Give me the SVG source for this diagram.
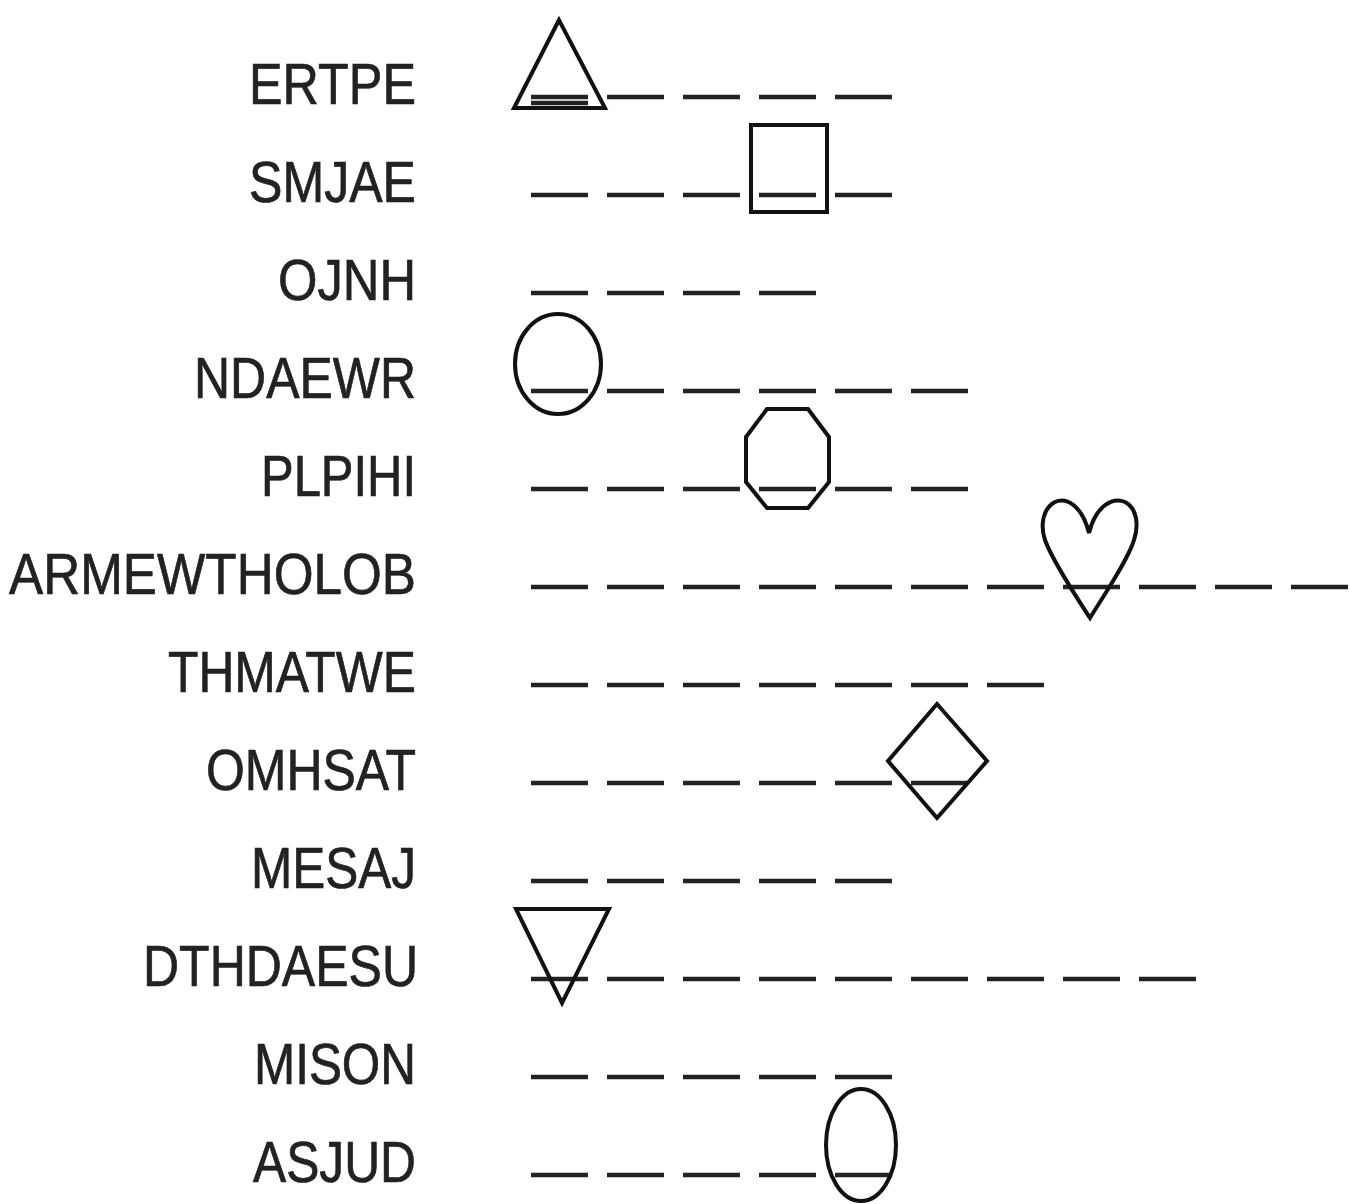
<svg xmlns="http://www.w3.org/2000/svg" width="1350" height="1204" viewBox="0 0 1350 1204">
<style>
.lbl{font-family:"Liberation Sans",Arial,sans-serif;font-size:58px;fill:#222;stroke:#222;stroke-width:0.7;text-anchor:end}
.d{stroke:#222;stroke-width:4.5;fill:none}
.s{stroke:#111;stroke-width:4;fill:none;stroke-linejoin:miter}
</style>
<defs>
<path id="dash" d="M0,0 h57" class="d"/>
</defs>
<rect width="1350" height="1204" fill="#fff"/>
<g id="labels">
<text class="lbl" x="416" y="104" textLength="167" lengthAdjust="spacingAndGlyphs">ERTPE</text>
<text class="lbl" x="416" y="202" textLength="167" lengthAdjust="spacingAndGlyphs">SMJAE</text>
<text class="lbl" x="416" y="300" textLength="138" lengthAdjust="spacingAndGlyphs">OJNH</text>
<text class="lbl" x="416" y="398" textLength="222" lengthAdjust="spacingAndGlyphs">NDAEWR</text>
<text class="lbl" x="416" y="496" textLength="155" lengthAdjust="spacingAndGlyphs">PLPIHI</text>
<text class="lbl" x="416" y="594" textLength="407" lengthAdjust="spacingAndGlyphs">ARMEWTHOLOB</text>
<text class="lbl" x="416" y="692" textLength="248" lengthAdjust="spacingAndGlyphs">THMATWE</text>
<text class="lbl" x="416" y="790" textLength="210" lengthAdjust="spacingAndGlyphs">OMHSAT</text>
<text class="lbl" x="416" y="888" textLength="165" lengthAdjust="spacingAndGlyphs">MESAJ</text>
<text class="lbl" x="418" y="986" textLength="275" lengthAdjust="spacingAndGlyphs">DTHDAESU</text>
<text class="lbl" x="416" y="1084" textLength="162" lengthAdjust="spacingAndGlyphs">MISON</text>
<text class="lbl" x="416" y="1182" textLength="163" lengthAdjust="spacingAndGlyphs">ASJUD</text>
</g>
<g id="connectors">
<use href="#dash" x="531" y="97"/><use href="#dash" x="607" y="97"/><use href="#dash" x="683" y="97"/><use href="#dash" x="759" y="97"/><use href="#dash" x="835" y="97"/>
<use href="#dash" x="531" y="195"/><use href="#dash" x="607" y="195"/><use href="#dash" x="683" y="195"/><use href="#dash" x="759" y="195"/><use href="#dash" x="835" y="195"/>
<use href="#dash" x="531" y="293"/><use href="#dash" x="607" y="293"/><use href="#dash" x="683" y="293"/><use href="#dash" x="759" y="293"/>
<use href="#dash" x="531" y="391"/><use href="#dash" x="607" y="391"/><use href="#dash" x="683" y="391"/><use href="#dash" x="759" y="391"/><use href="#dash" x="835" y="391"/><use href="#dash" x="911" y="391"/>
<use href="#dash" x="531" y="489"/><use href="#dash" x="607" y="489"/><use href="#dash" x="683" y="489"/><use href="#dash" x="759" y="489"/><use href="#dash" x="835" y="489"/><use href="#dash" x="911" y="489"/>
<use href="#dash" x="531" y="587"/><use href="#dash" x="607" y="587"/><use href="#dash" x="683" y="587"/><use href="#dash" x="759" y="587"/><use href="#dash" x="835" y="587"/><use href="#dash" x="911" y="587"/><use href="#dash" x="987" y="587"/><use href="#dash" x="1063" y="587"/><use href="#dash" x="1139" y="587"/><use href="#dash" x="1215" y="587"/><use href="#dash" x="1291" y="587"/>
<use href="#dash" x="531" y="685"/><use href="#dash" x="607" y="685"/><use href="#dash" x="683" y="685"/><use href="#dash" x="759" y="685"/><use href="#dash" x="835" y="685"/><use href="#dash" x="911" y="685"/><use href="#dash" x="987" y="685"/>
<use href="#dash" x="531" y="783"/><use href="#dash" x="607" y="783"/><use href="#dash" x="683" y="783"/><use href="#dash" x="759" y="783"/><use href="#dash" x="835" y="783"/><use href="#dash" x="911" y="783"/>
<use href="#dash" x="531" y="881"/><use href="#dash" x="607" y="881"/><use href="#dash" x="683" y="881"/><use href="#dash" x="759" y="881"/><use href="#dash" x="835" y="881"/>
<use href="#dash" x="531" y="979"/><use href="#dash" x="607" y="979"/><use href="#dash" x="683" y="979"/><use href="#dash" x="759" y="979"/><use href="#dash" x="835" y="979"/><use href="#dash" x="911" y="979"/><use href="#dash" x="987" y="979"/><use href="#dash" x="1063" y="979"/><use href="#dash" x="1139" y="979"/>
<use href="#dash" x="531" y="1077"/><use href="#dash" x="607" y="1077"/><use href="#dash" x="683" y="1077"/><use href="#dash" x="759" y="1077"/><use href="#dash" x="835" y="1077"/>
<use href="#dash" x="531" y="1175"/><use href="#dash" x="607" y="1175"/><use href="#dash" x="683" y="1175"/><use href="#dash" x="759" y="1175"/><use href="#dash" x="835" y="1175"/>
</g>
<g id="triangle"><polygon class="s" points="559,20 514,108 605,108"/><line class="d" x1="531" y1="103" x2="588" y2="103"/></g>
<g id="square"><rect class="s" x="751" y="125" width="76" height="87"/></g>
<g id="circle"><ellipse class="s" cx="558" cy="364" rx="43" ry="50"/></g>
<g id="octagon"><polygon class="s" points="767,409 808,409 829,437 829,482 808,508 767,508 746,482 746,437"/></g>
<g id="heart"><path class="s" d="M1089,533 C1082,505 1066,497 1055,502 C1043,508 1040,525 1045,540 C1052,560 1075,595 1090,618 C1104,595 1128,560 1134,540 C1139,525 1137,508 1125,502 C1113,497 1096,505 1089,533 Z"/></g>
<g id="diamond"><polygon class="s" points="937,704 987,761 937,818 888,761"/></g>
<g id="inverted-triangle"><polygon class="s" points="516,909 609,909 562,1003"/></g>
<g id="ellipse"><ellipse class="s" cx="861" cy="1145" rx="35" ry="56"/></g>
</svg>
